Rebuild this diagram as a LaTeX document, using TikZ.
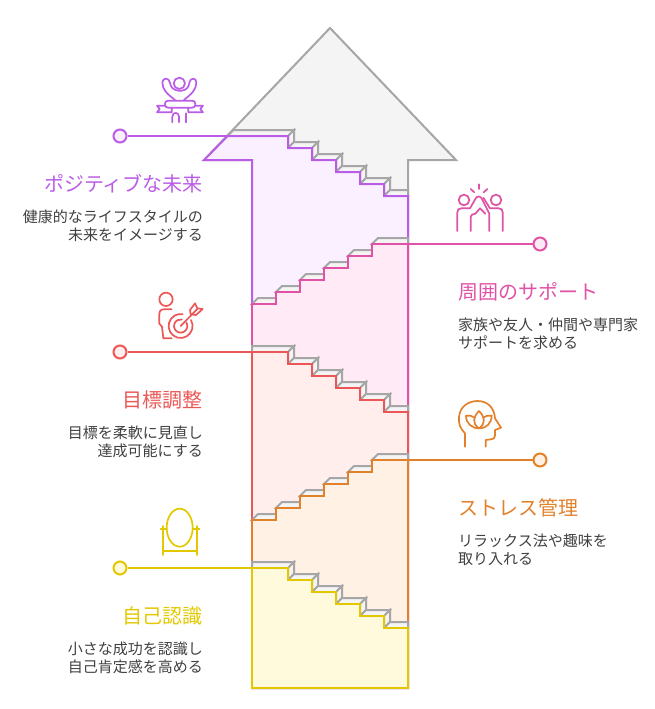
\documentclass[tikz,border=0pt]{standalone}
\usepackage{fontspec}
\setmainfont{Noto Sans CJK JP}
\definecolor{graya}{HTML}{A6A6A6}
\definecolor{grayb}{HTML}{F4F4F4}
\definecolor{purplea}{HTML}{BB5CE6}
\definecolor{purpleb}{HTML}{FAF0FF}
\definecolor{pinka}{HTML}{E052A6}
\definecolor{pinkb}{HTML}{FFEAF6}
\definecolor{reda}{HTML}{EB5757}
\definecolor{redb}{HTML}{FFEEEC}
\definecolor{orangea}{HTML}{E3812B}
\definecolor{orangeb}{HTML}{FFF1E4}
\definecolor{yellowa}{HTML}{E3C800}
\definecolor{yellowb}{HTML}{FFFADC}
\definecolor{texta}{HTML}{404040}
\tikzset{
    face/.style={draw=graya, fill=grayb, line width=2pt, line join=miter},
    edge/.style={line width=2pt, line join=miter},
    glyph/.style={line width=1.7pt, line cap=round, line join=round},
    dot/.style={circle, draw, line width=2pt, minimum size=13pt, inner sep=0pt},
    heading/.style={inner sep=0pt, font=\fontsize{20}{24}\selectfont},
    note/.style={inner sep=0pt, text=texta, font=\fontsize{15}{18}\selectfont},
}
% stair outlines, measured from the top tread
\newcommand{\stepsdown}[1]{(288,#1) -- (288,#1+12) -- (312,#1+12) -- (312,#1+24) -- (336,#1+24) -- (336,#1+36) -- (360,#1+36) -- (360,#1+48) -- (384,#1+48) -- (384,#1+60) -- (408,#1+60)}
\newcommand{\stepsup}[1]{(372,#1) -- (372,#1+12) -- (348,#1+12) -- (348,#1+24) -- (324,#1+24) -- (324,#1+36) -- (300,#1+36) -- (300,#1+48) -- (276,#1+48) -- (276,#1+60) -- (252,#1+60)}
\newcommand{\facedown}[3]{%
    \draw[face] (#2,#1) -- (#3,#1-6) -- (294,#1-6) -- (288,#1) -- cycle;
    \foreach \i in {0,...,4} {
        \draw[face] ({288+24*\i},{#1+12*\i}) -- ++(6,-6) -- ++(0,12) -- ++(-6,6) -- cycle;
        \draw[face] ({288+24*\i},{#1+12*\i+12}) -- ++(6,-6) -- ({min(318+24*\i,408)},{#1+12*\i+6}) -- ({min(312+24*\i,408)},{#1+12*\i+12}) -- cycle;
    }
}
\newcommand{\faceup}[1]{%
    \foreach \xa/\xb/\dy in {252/276/60, 276/300/48, 300/324/36, 324/348/24, 348/372/12, 372/408/0}
        \draw[face] (\xa,#1+\dy) -- (\xa+6,#1+\dy-6) -- (\xb,#1+\dy-6) -- (\xb,#1+\dy) -- cycle;
}
\begin{document}
\begin{tikzpicture}[x=1pt, y=-1pt]
    \useasboundingbox (0,0) rectangle (654,709);
    % arrow
    \draw[face] (330,28) -- (456,160) -- (408,160) -- (408,688) -- (252,688) -- (252,160) -- (204,160) -- cycle;
    % purple
    \facedown{136}{227.7}{233.4}
    \fill[purpleb] (227.7,136) -- \stepsdown{136} -- (408,688) -- (252,688) -- (252,160) -- (204,160) -- cycle;
    \draw[edge, purplea] (227.7,136) -- \stepsdown{136} -- (408,688) -- (252,688) -- (252,160) -- (204,160) -- cycle;
    % pink
    \faceup{244}
    \draw[edge, pinka, fill=pinkb] \stepsup{244} -- (252,688) -- (408,688) -- (408,244) -- cycle;
    % red
    \facedown{352}{252}{252}
    \draw[edge, reda, fill=redb] (252,352) -- \stepsdown{352} -- (408,688) -- (252,688) -- cycle;
    % orange
    \faceup{460}
    \draw[edge, orangea, fill=orangeb] \stepsup{460} -- (252,688) -- (408,688) -- (408,460) -- cycle;
    % yellow
    \facedown{568}{252}{252}
    \draw[edge, yellowa, fill=yellowb] (252,568) -- \stepsdown{568} -- (408,688) -- (252,688) -- cycle;

    % dots and connectors
    \foreach \n/\x/\y/\xe/\c in {a/120/136/288/purple, b/540/244/372/pink, c/120/352/288/red, d/540/460/372/orange, e/120/568/288/yellow} {
        \coordinate (step\n) at (\xe,\y);
        \node[dot, draw=\c a, fill=\c b] (dot\n) at (\x,\y) {};
        \draw[edge, \c a] (dot\n) -- (step\n);
    }

    % texts
    \node[heading, text=purplea, anchor=east] (heada) at (203,183.5) {ポジティブな未来};
    \node[note, anchor=east, align=right] (notea) at (203,225.5) {健康的なライフスタイルの\\未来をイメージする};
    \node[heading, text=pinka, anchor=west] (headb) at (458,291.5) {周囲のサポート};
    \node[note, anchor=west, align=left] (noteb) at (458,333.5) {家族や友人・仲間や専門家\\サポートを求める};
    \node[heading, text=reda, anchor=east] (headc) at (203,399.5) {目標調整};
    \node[note, anchor=east, align=right] (notec) at (203,441.5) {目標を柔軟に見直し\\達成可能にする};
    \node[heading, text=orangea, anchor=west] (headd) at (458,507.5) {ストレス管理};
    \node[note, anchor=west, align=left] (noted) at (458,549.5) {リラックス法や趣味を\\取り入れる};
    \node[heading, text=yellowa, anchor=east] (heade) at (203,615.5) {自己認識};
    \node[note, anchor=east, align=right] (notee) at (203,657.5) {小さな成功を認識し\\自己肯定感を高める};

    % icons, in the 3x grid of their crops
    \begin{scope}[shift={(110,70)}, x=1pt/3, y=-1pt/3, glyph, purplea]
        \draw (208,40) circle (17);
        \draw (195,90) .. controls (170,70) and (158,60) .. (157,38) .. controls (157,22) and (178,22) .. (180,38) .. controls (182,52) and (190,60) .. (205,62) -- (215,62) .. controls (230,60) and (236,52) .. (238,38) .. controls (240,22) and (260,22) .. (259,38) .. controls (258,60) and (246,70) .. (222,90);
        \draw[rounded corners=3pt] (165,92) rectangle (256,113);
        \draw (165,107) -- (141,107) -- (149,117) -- (141,127) -- (185,127) -- (185,113);
        \draw (256,107) -- (279,107) -- (271,117) -- (279,127) -- (235,127) -- (235,113);
        \draw (187,157) -- (187,140) .. controls (187,125) and (207,125) .. (207,140) -- (207,157);
        \draw (228,130) -- (228,157);
    \end{scope}
    \begin{scope}[shift={(440,175)}, x=1pt/3, y=-1pt/3, glyph, pinka]
        \draw (72,75) circle (16) (168,75) circle (16);
        \draw (52,168) -- (52,112) .. controls (52,104) and (56,100) .. (64,100) -- (90,100) -- (106,72) .. controls (110,62) and (122,62) .. (126,72) -- (148,116) -- (148,168);
        \draw (188,168) -- (188,112) .. controls (188,104) and (184,100) .. (176,100) -- (150,100) -- (130,68);
        \draw (92,168) -- (92,125) .. controls (92,118) and (100,118) .. (106,116) -- (120,100) -- (136,116);
        \draw (117,28) -- (117,42) (92,42) -- (103,52) (142,42) -- (131,52);
    \end{scope}
    \begin{scope}[shift={(110,285)}, x=1pt/3, y=-1pt/3, glyph, reda]
        \draw (168,43) circle (20);
        \draw (185,73) -- (162,73) .. controls (152,73) and (148,78) .. (148,88) -- (148,116) -- (156,125) -- (160,160) -- (185,160);
        \draw (243,105) arc (-30:280:36);
        \draw (229.3,113) arc (-30:280:20);
        \draw (212,123) -- (262,72);
        \draw (240,75) -- (255,55) -- (262,70) -- (278,72) -- (258,90) -- (242,88) -- cycle;
    \end{scope}
    \begin{scope}[shift={(440,395)}, x=1pt/3, y=-1pt/3, glyph, orangea]
        \draw (75,155) -- (75,115) .. controls (60,100) and (55,85) .. (57,65) .. controls (60,35) and (85,18) .. (112,18) .. controls (145,18) and (163,40) .. (165,70) -- (183,98) -- (165,105) -- (165,122) .. controls (165,130) and (160,133) .. (152,133) -- (137,135) -- (137,155);
        \draw (117,100) .. controls (95,85) and (100,65) .. (117,48) .. controls (134,65) and (139,85) .. (117,100);
        \draw (104,68) .. controls (95,62) and (88,60) .. (78,62) .. controls (78,85) and (95,100) .. (117,100);
        \draw (130,68) .. controls (139,62) and (146,60) .. (155,62) .. controls (155,85) and (139,100) .. (117,100);
    \end{scope}
    \begin{scope}[shift={(110,500)}, x=1pt/3, y=-1pt/3, glyph, yellowa]
        \draw (209,83) ellipse (39 and 57);
        \draw (159,78) -- (159,165) (261,78) -- (261,165) (159,153) -- (261,153);
        \draw (152,87) -- (170,87) (250,87) -- (268,87);
    \end{scope}
\end{tikzpicture}
\end{document}
